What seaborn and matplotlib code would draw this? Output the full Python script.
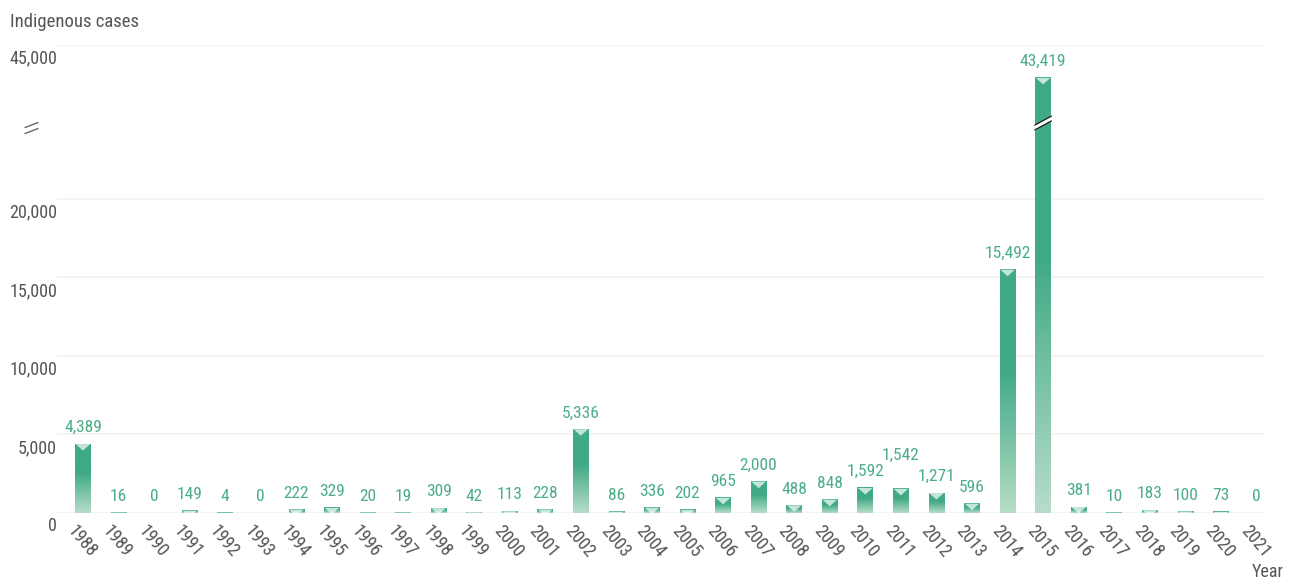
import numpy as np
import pandas as pd
import matplotlib
matplotlib.use("Agg")
import matplotlib.pyplot as plt
import matplotlib.transforms as mtransforms
from matplotlib.colors import LinearSegmentedColormap
from matplotlib.path import Path
from matplotlib.markers import MarkerStyle
from matplotlib.patches import Polygon
from matplotlib.lines import Line2D
import seaborn as sns

# ---- data -------------------------------------------------------------
years = [str(y) for y in range(1988, 2022)]
cases = [4389, 16, 0, 149, 4, 0, 222, 329, 20, 19, 309, 42, 113, 228, 5336,
         86, 336, 202, 965, 2000, 488, 848, 1592, 1542, 1271, 596, 15492,
         43419, 381, 10, 183, 100, 73, 0]
ytick_values = [0, 5000, 10000, 15000, 20000, 45000]
ytick_labels = ["0", "5,000", "10,000", "15,000", "20,000", "45,000"]

# broken y axis: piecewise-linear scale (value knots -> drawn position knots)
scale_values = [-1e6, 0, 20000, 41300, 45000, 1e6]
scale_positions = [-1e6, 0, 20000, 24900, 29800, 29800 + (1e6 - 45000) * 4900 / 3700]
break_value = 41000
broken_bar = "2015"

# ---- style ------------------------------------------------------------
sns.set_theme(style="white")
plt.rcParams["font.family"] = ["Roboto Condensed", "DejaVu Sans"]
plt.rcParams["font.stretch"] = "condensed"

dark = "#40aa84"
light = "#b7ddc9"
label_green = "#4aad86"
text_grey = "#555555"

fig = plt.figure(figsize=(13, 5.81), dpi=100)
ax = fig.add_axes([57 / 1300, (581 - 513) / 581, (1265 - 57) / 1300, (513 - 45) / 581])

df = pd.DataFrame({"Year": years, "Cases": cases})
sns.barplot(data=df, x="Year", y="Cases", color=dark, saturation=1,
            width=0.44, linewidth=0, ax=ax, zorder=2)


def fwd(v):
    return np.interp(v, scale_values, scale_positions)


def inv(p):
    return np.interp(p, scale_positions, scale_values)


ax.set_yscale("function", functions=(fwd, inv))
ax.set_ylim(0, 45000)
ax.set_xlim(-0.73, 33.24)
ax.set_autoscale_on(False)

for s in ax.spines.values():
    s.set_visible(False)

ax.set_yticks(ytick_values)
ax.yaxis.set_minor_locator(matplotlib.ticker.NullLocator())
ax.tick_params(axis="y", length=34, width=1.0, color="#6a6a6a",
               direction="out", labelleft=False)
ax.yaxis.grid(True, color="#f1f1f1", linewidth=1.2)
ax.set_axisbelow(True)
ax.set_xlabel("")
ax.set_ylabel("")

# y tick labels sit just under their tick lines
ylab_tr = mtransforms.blended_transform_factory(ax.transAxes, ax.transData) + \
    mtransforms.ScaledTranslation(0, -3.2 / 72, fig.dpi_scale_trans)
for v, lab in zip(ytick_values, ytick_labels):
    ax.text(0, v, lab, transform=ylab_tr, ha="right", va="top",
            fontsize=13, color=text_grey)

# year labels, rotated, hanging below each bar
ax.set_xticks(range(len(years)))
ax.set_xticklabels([])
ax.tick_params(axis="x", length=0)
xlab_tr = mtransforms.blended_transform_factory(ax.transData, ax.transAxes) + \
    mtransforms.ScaledTranslation(-6 / 100, -9 / 100, fig.dpi_scale_trans)
for i, yr in enumerate(years):
    ax.text(i, 0, yr, transform=xlab_tr, rotation=-50, ha="left", va="top",
            rotation_mode="anchor", fontsize=13, color=text_grey)

# gradient fill for each bar
cmap = LinearSegmentedColormap.from_list("bar", [(0, dark), (0.42, dark), (1, light)])
grad = np.linspace(0, 1, 256).reshape(-1, 1)
to_axes = ax.transAxes.inverted()
bars = list(ax.patches)
for bar in bars:
    h = bar.get_height()
    if h <= 0:
        continue
    x0, w = bar.get_x(), bar.get_width()
    (ax0, ay0), (ax1, ay1) = to_axes.transform(
        ax.transData.transform([(x0, 0), (x0 + w, h)]))
    ax.imshow(grad, cmap=cmap, extent=[ax0, ax1, ay0, ay1], transform=ax.transAxes,
              aspect="auto", origin="upper", zorder=2.1, interpolation="bilinear")
    bar.set_alpha(0)

# light cap triangle at the top of each bar
cap = MarkerStyle(Path([(-0.5, 0), (0.5, 0), (0, -0.45), (-0.5, 0)],
                       [Path.MOVETO, Path.LINETO, Path.LINETO, Path.CLOSEPOLY]))
pos = [i for i, v in enumerate(cases) if v > 0]
ax.scatter(pos, [cases[i] for i in pos], marker=cap, s=10.5 ** 2,
           facecolor=(1, 1, 1, 0.7), edgecolor="none", zorder=3)

# value labels
base_off = 8.5
labels = []
for i, v in enumerate(cases):
    labels.append(ax.annotate(f"{v:,}", xy=(i, v), xytext=(0, base_off),
                              textcoords="offset points", ha="center", va="baseline",
                              fontsize=12.5, color=label_green, zorder=4,
                              annotation_clip=False))

# lift labels that would collide with a neighbour on their left
fig.canvas.draw()
renderer = fig.canvas.get_renderer()
px_per_pt = fig.dpi / 72
placed = []
for ann in labels:
    off = base_off
    for _ in range(10):
        ann.xyann = (0, off)
        bb = ann.get_window_extent(renderer)
        lift = 0
        for pb in placed:
            if bb.x0 < pb.x1 + 3 and bb.x1 > pb.x0 - 3 and bb.y0 < pb.y1 and bb.y1 > pb.y0:
                lift = max(lift, pb.y1 - bb.y0 + 1)
        if lift == 0:
            break
        off += lift / px_per_pt
    placed.append(ann.get_window_extent(renderer))

# break mark across the tallest bar
bi = years.index(broken_bar)
bb = bars[bi]
bx0, bx1 = bb.get_x(), bb.get_x() + bb.get_width()
(dx0, dyc), (dx1, _) = ax.transData.transform([(bx0, break_value), (bx1, break_value)])
dx0 -= 0.5
dx1 += 0.5
rise, half = 4.5, 2.4
upper = [(dx0, dyc - rise + half), (dx1, dyc + rise + half)]
lower = [(dx0, dyc - rise - half), (dx1, dyc + rise - half)]
quad = to_axes.transform([lower[0], lower[1], upper[1], upper[0]])
ax.add_patch(Polygon(quad, closed=True, facecolor="white", edgecolor="none",
                     transform=ax.transAxes, zorder=5))
for seg in (upper, lower):
    pts = to_axes.transform(seg)
    ax.add_line(Line2D(pts[:, 0], pts[:, 1], color="#1a1a1a", lw=0.9,
                       transform=ax.transAxes, zorder=6))

# break symbol on the y axis
to_fig = fig.transFigure.inverted()
_, ayc = ax.transData.transform((0, break_value))
ayc -= 5
for off in (3.0, -3.0):
    seg = to_fig.transform([(25, ayc + off - 2.5), (38, ayc + off + 2.5)])
    fig.add_artist(Line2D(seg[:, 0], seg[:, 1], color="#6a6a6a", lw=1.0,
                          transform=fig.transFigure))

fig.text(10 / 1300, 1 - 27 / 581, "Indigenous cases", ha="left", va="baseline",
         fontsize=13.5, color=text_grey)
fig.text(1284 / 1300, 1 - 577 / 581, "Year", ha="right", va="baseline",
         fontsize=13, color=text_grey)

fig.savefig("out.png", dpi=100)
